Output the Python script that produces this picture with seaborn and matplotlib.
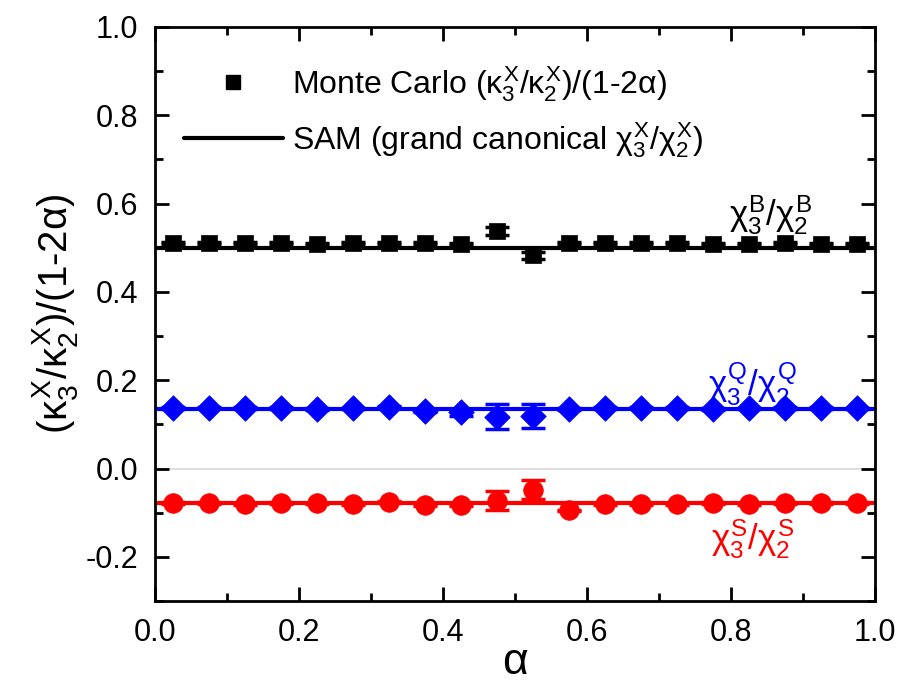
import numpy as np
import pandas as pd
import matplotlib
matplotlib.use("Agg")
import matplotlib.pyplot as plt
import seaborn as sns
from matplotlib.ticker import MultipleLocator
from matplotlib.lines import Line2D

alpha = [0.025, 0.075, 0.125, 0.175, 0.225, 0.275, 0.325, 0.375, 0.425, 0.475,
         0.525, 0.575, 0.625, 0.675, 0.725, 0.775, 0.825, 0.875, 0.925, 0.975]
baryon = [0.510, 0.510, 0.510, 0.510, 0.509, 0.511, 0.511, 0.510, 0.509, 0.537,
          0.483, 0.510, 0.510, 0.511, 0.511, 0.509, 0.509, 0.510, 0.509, 0.509]
baryon_err = [0.002, 0.002, 0.002, 0.002, 0.002, 0.002, 0.002, 0.002, 0.002, 0.009,
              0.008, 0.002, 0.002, 0.002, 0.002, 0.002, 0.002, 0.002, 0.002, 0.002]
charge = [0.137, 0.138, 0.137, 0.137, 0.135, 0.136, 0.139, 0.131, 0.127, 0.117,
          0.119, 0.135, 0.137, 0.138, 0.137, 0.135, 0.136, 0.137, 0.137, 0.136]
charge_err = [0.002, 0.002, 0.002, 0.002, 0.002, 0.002, 0.002, 0.002, 0.008, 0.028,
              0.028, 0.002, 0.002, 0.002, 0.002, 0.002, 0.002, 0.002, 0.002, 0.002]
strange = [-0.078, -0.078, -0.080, -0.078, -0.079, -0.080, -0.075, -0.082, -0.082, -0.073,
           -0.048, -0.095, -0.080, -0.080, -0.080, -0.078, -0.080, -0.078, -0.078, -0.078]
strange_err = [0.002, 0.002, 0.002, 0.002, 0.002, 0.002, 0.002, 0.002, 0.002, 0.021,
               0.021, 0.002, 0.002, 0.002, 0.002, 0.002, 0.002, 0.002, 0.002, 0.002]
sam_x = [0.0, 1.0]
sam_B = 0.500
sam_Q = 0.135
sam_S = -0.078

sns.set_style("ticks", {"axes.edgecolor": "black", "xtick.color": "black",
                        "ytick.color": "black", "text.color": "black",
                        "axes.labelcolor": "black"})
plt.rcParams['font.family'] = ['Liberation Sans', 'DejaVu Sans']
plt.rcParams['mathtext.fontset'] = 'custom'
plt.rcParams['mathtext.rm'] = 'Liberation Sans'
plt.rcParams['mathtext.it'] = 'Liberation Sans'
plt.rcParams['mathtext.bf'] = 'Liberation Sans:bold'
plt.rcParams['axes.unicode_minus'] = False

fig, ax = plt.subplots(figsize=(9, 6.9), dpi=100)
fig.subplots_adjust(left=0.172, right=0.972, top=0.961, bottom=0.129)

ax.axhline(0, color='#d8d8d8', lw=1.2, zorder=0)

series = [
    (baryon, baryon_err, sam_B, 'black', 's', 120),
    (charge, charge_err, sam_Q, '#0000ff', 'D', 170),
    (strange, strange_err, sam_S, '#ff0000', 'o', 200),
]
for vals, err, sam, col, mk, sz in series:
    sns.lineplot(x=sam_x, y=[sam, sam], color=col, lw=3, ax=ax, zorder=2)
    ax.errorbar(alpha, vals, yerr=err, fmt='none', ecolor=col, elinewidth=2.2,
                capsize=8.5, capthick=2.5, zorder=3)
    sns.scatterplot(x=alpha, y=vals, color=col, marker=mk, s=sz, edgecolor=col,
                    linewidth=0.5, ax=ax, zorder=4)

ax.set_xlim(0, 1.0)
ax.set_ylim(-0.3, 1.0)
ax.xaxis.set_major_locator(MultipleLocator(0.2))
ax.xaxis.set_minor_locator(MultipleLocator(0.1))
ax.yaxis.set_major_locator(MultipleLocator(0.2))
ax.yaxis.set_minor_locator(MultipleLocator(0.1))
ax.tick_params(which='both', direction='in', top=True, right=True, width=2,
               labelsize=22, pad=12, colors='black')
ax.tick_params(which='major', length=10)
ax.tick_params(which='minor', length=6)
for sp in ax.spines.values():
    sp.set_linewidth(2)
    sp.set_visible(True)
    sp.set_color('black')

ax.set_xlabel(r'$\alpha$', fontsize=32, labelpad=-4)
ax.set_ylabel(r'$(\kappa_3^X/\kappa_2^X)$/(1-2$\alpha$)', fontsize=29, labelpad=4)

ax.text(0.855, 0.575, r'$\chi_3^B/\chi_2^B$', fontsize=25, color='black', ha='center', va='center')
ax.text(0.83, 0.19, r'$\chi_3^Q/\chi_2^Q$', fontsize=25, color='#0000ff', ha='center', va='center')
ax.text(0.83, -0.16, r'$\chi_3^S/\chi_2^S$', fontsize=25, color='#ff0000', ha='center', va='center')

handles = [
    Line2D([], [], color='black', marker='s', ls='none', markersize=10),
    Line2D([], [], color='black', lw=3),
]
labels = [r'Monte Carlo $(\kappa_3^X/\kappa_2^X)$/(1-2$\alpha$)',
          r'SAM (grand canonical $\chi_3^X/\chi_2^X$)']
ax.legend(handles, labels, loc='upper left', bbox_to_anchor=(0.0, 0.985), frameon=False,
          fontsize=23, handlelength=3.1, handletextpad=0.3, labelspacing=0.5)

fig.savefig('out.png', dpi=100)
